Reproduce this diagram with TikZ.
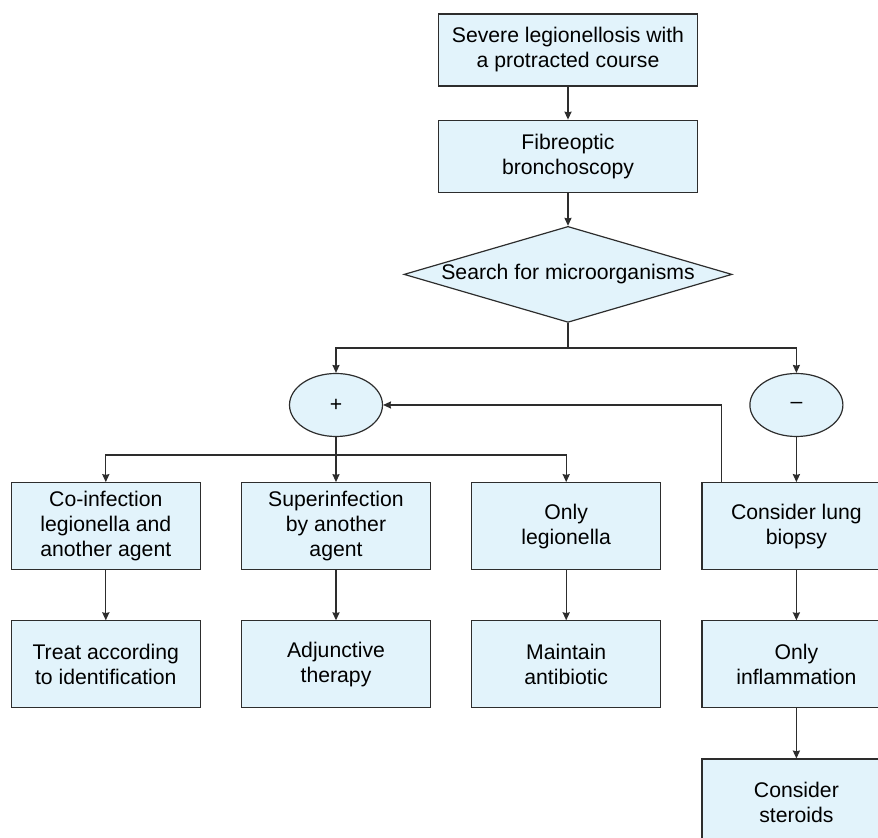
\documentclass[tikz,border=0pt]{standalone}
\usepackage{fontspec}
\setmainfont{Liberation Sans}
\usetikzlibrary{arrows.meta,shapes,positioning}

\definecolor{boxblue}{RGB}{226,243,251}
\definecolor{boxline}{RGB}{45,45,45}

\begin{document}
\begin{tikzpicture}[>={Stealth[length=4pt,width=3.6pt,inset=0.4pt]},font=\fontsize{10.6pt}{12.5pt}\selectfont]

    \useasboundingbox (0,0) rectangle (439pt,-419pt);
    \clip (0,0) rectangle (439pt,-419pt);

    \tikzstyle{wide}=[rectangle,draw=boxline,fill=boxblue,line width=0.6pt,align=center,minimum width=129.5pt,minimum height=36pt]
    \tikzstyle{decision}=[diamond,draw=boxline,fill=boxblue,line width=0.6pt,inner sep=0pt,aspect=3.4,minimum width=164pt,minimum height=48pt]
    \tikzstyle{result}=[ellipse,draw=boxline,fill=boxblue,line width=0.6pt,minimum width=46.5pt,minimum height=31.5pt]
    \tikzstyle{action}=[rectangle,draw=boxline,fill=boxblue,line width=0.6pt,align=center,minimum width=94.5pt,minimum height=43.5pt]
    \tikzstyle{flow}=[->,draw=boxline,line width=0.6pt]
    \tikzstyle{pre}=[<-,draw=boxline,line width=0.6pt]

    \begin{scope}
        \node [wide] (sev) at (284pt,-25pt) {Severe legionellosis with\\a protracted course};
        \node [wide] (fib) [below=16.5pt of sev] {Fibreoptic\\bronchoscopy}
            edge [pre] (sev);
        \node [decision] (srch) [below=16.5pt of fib] {Search for microorganisms}
            edge [pre] (fib);

        \node [result] (pos) at (168pt,-202.5pt) {+};

        \node [action] (sup) [below=22.5pt of pos] {Superinfection\\by another\\agent}
            edge [pre] (pos);
        \node [action] (coinf) [left=20pt of sup] {Co-infection\\legionella and\\another agent};
        \node [action] (only) [right=20pt of sup] {Only\\legionella};
        \node [action] (lung) [right=20pt of only] {Consider lung\\biopsy};
        \node [result] (neg) [above=22.5pt of lung] {--}
            edge [flow] (lung);

        \node [action] (treat) [below=25pt of coinf] {Treat according\\to identification}
            edge [pre] (coinf);
        \node [action] (adj) [below=25pt of sup] {Adjunctive\\therapy}
            edge [pre] (sup);
        \node [action] (keep) [below=25pt of only] {Maintain\\antibiotic}
            edge [pre] (only);
        \node [action] (infl) [below=25pt of lung] {Only\\inflammation}
            edge [pre] (lung);
        \node [action] (ster) [below=25pt of infl] {Consider\\steroids}
            edge [pre] (infl);
    \end{scope}

    \draw [flow] (srch.south) -- ++(0,-12.5pt) -| (pos.north);
    \draw [flow] (srch.south) -- ++(0,-12.5pt) -| (neg.north);
    \draw [flow] (pos.south) -- ++(0,-9pt) -| (coinf.north);
    \draw [flow] (pos.south) -- ++(0,-9pt) -| (only.north);
    \draw [flow] ([xshift=10pt]lung.north west) |- (pos.east);
\end{tikzpicture}
\end{document}
